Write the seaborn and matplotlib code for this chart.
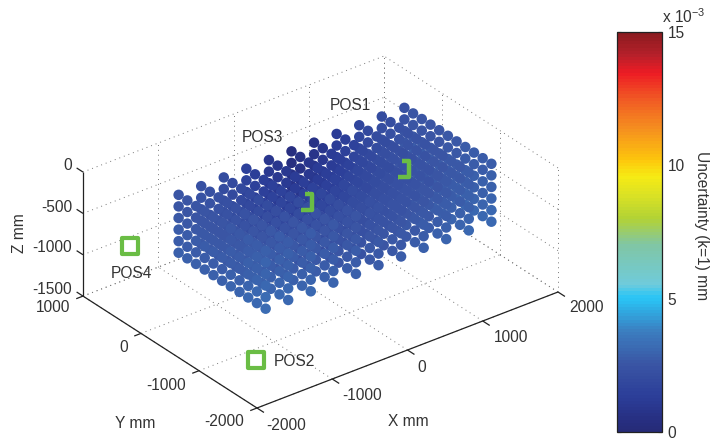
import numpy as np
import pandas as pd
import seaborn as sns
import matplotlib.pyplot as plt
from matplotlib.cm import ScalarMappable
from matplotlib.colors import LinearSegmentedColormap, Normalize
from matplotlib.markers import MarkerStyle
from matplotlib.path import Path

# measuring grid, mm
x_grid = [-1500, -1200, -900, -600, -300, 0, 300, 600, 900, 1200, 1500]
y_grid = [-1500, -1350, -1200, -1050, -900, -750, -600, -450, -300, -150, 0]
z_grid = [-700, -560, -420, -280, -140, 0]

# uncertainty on the top layer (x 10^-3 mm), one row per y_grid value
top_uncertainty = [
    [2.9, 2.8, 2.7, 2.6, 2.5, 2.4, 2.4, 2.5, 2.6, 2.7, 2.8],
    [2.8, 2.7, 2.6, 2.5, 2.4, 2.3, 2.3, 2.4, 2.5, 2.6, 2.7],
    [2.7, 2.6, 2.5, 2.4, 2.2, 2.1, 2.2, 2.3, 2.4, 2.6, 2.7],
    [2.6, 2.5, 2.4, 2.2, 2.0, 2.0, 2.1, 2.2, 2.4, 2.5, 2.7],
    [2.6, 2.5, 2.2, 2.0, 1.8, 1.8, 1.9, 2.1, 2.3, 2.5, 2.6],
    [2.5, 2.4, 2.1, 1.8, 1.6, 1.6, 1.8, 2.0, 2.2, 2.4, 2.6],
    [2.5, 2.3, 2.0, 1.6, 1.4, 1.4, 1.6, 1.9, 2.2, 2.4, 2.5],
    [2.5, 2.3, 1.9, 1.5, 1.2, 1.2, 1.4, 1.8, 2.1, 2.3, 2.5],
    [2.5, 2.3, 1.9, 1.4, 1.0, 0.9, 1.2, 1.6, 2.0, 2.3, 2.5],
    [2.5, 2.3, 1.9, 1.4, 0.9, 0.6, 0.9, 1.4, 1.9, 2.2, 2.5],
    [2.5, 2.3, 2.0, 1.5, 0.9, 0.4, 0.7, 1.2, 1.7, 2.1, 2.4],
]
# added per z layer, bottom to top
layer_offset = [0.35, 0.28, 0.2, 0.12, 0.06, 0.0]

pos_names = ["POS1", "POS2", "POS3", "POS4"]
pos_x = [1215, -1600, -20, -2030]
pos_y = [-310, -1465, -235, 150]
pos_z = [-500, -1300, -500, -500]

x_ticks = [-2000, -1000, 0, 1000, 2000]
y_ticks = [-2000, -1000, 0, 1000]
z_ticks = [-1500, -1000, -500, 0]
bar_ticks = [0, 5, 10, 15]

cmap_stops = [
    (0.0, "#262b78"), (0.2, "#262c7c"), (1.25, "#2b3d98"), (2.5, "#3a55a4"),
    (3.75, "#3b7ec0"), (4.9, "#2ac0f2"), (5.1, "#2ec6f4"), (5.5, "#6fcbdc"),
    (7.0, "#80c6a5"), (8.0, "#b2d235"), (9.0, "#dfe322"), (9.6, "#f6eb14"),
    (10.2, "#fdc70c"), (11.4, "#f58f1f"), (12.5, "#f15a24"), (13.5, "#ed1c24"),
    (14.2, "#b5202a"), (15.0, "#8b1b1f"),
]

TEXT = "#333333"
GREEN = "#6abd45"
FS = 11.2


def project(x, y, z):
    # same view as the matlab figure, result in figure pixels
    u = np.asarray(x, dtype=float) + 2000
    v = np.asarray(y, dtype=float) + 2000
    w = np.asarray(z, dtype=float) + 1500
    return 257 + 0.07525 * u - 0.058 * v, 408 - 0.029 * u - 0.0373 * v - 0.0827 * w


sns.set_theme(style="white")
plt.rcParams["font.family"] = ["Liberation Sans", "DejaVu Sans"]
plt.rcParams["mathtext.default"] = "regular"

cmap = LinearSegmentedColormap.from_list(
    "uncert", [(p / 15, c) for p, c in cmap_stops], N=128
)
norm = Normalize(0, 15)

rows = []
for k, z in enumerate(z_grid):
    for j, y in enumerate(y_grid):
        for i, x in enumerate(x_grid):
            rows.append((x, y, z, top_uncertainty[j][i] + layer_offset[k]))
df = pd.DataFrame(rows, columns=["x", "y", "z", "u"])
df["sx"], df["sy"] = project(df.x, df.y, df.z)
# far points first so the near ones are painted over them
df["near"] = -0.0048 * df.x - 0.00622 * df.y + 0.00449 * df.z
df = df.sort_values("near")

fig = plt.figure(figsize=(7.15, 4.41), dpi=100)
ax = fig.add_axes([0, 0, 1, 1])
ax.set_xlim(0, 715)
ax.set_ylim(441, 0)
ax.axis("off")

# dotted box: floor and the two back walls
dots = dict(color="#777777", lw=0.7, ls=(0, (1, 4)), zorder=1)
for xt in x_ticks:
    ax.plot(*project([xt, xt], [-2000, 1000], [-1500, -1500]), **dots)
    ax.plot(*project([xt, xt], [1000, 1000], [-1500, 0]), **dots)
for yt in y_ticks:
    ax.plot(*project([-2000, 2000], [yt, yt], [-1500, -1500]), **dots)
    ax.plot(*project([2000, 2000], [yt, yt], [-1500, 0]), **dots)
for zt in z_ticks:
    ax.plot(*project([-2000, 2000], [1000, 1000], [zt, zt]), **dots)
    ax.plot(*project([2000, 2000], [-2000, 1000], [zt, zt]), **dots)

# the solid axes with their ticks
solid = dict(color="#222222", lw=0.9, zorder=2, solid_capstyle="butt")
ax.plot(*project([-2000, 2000], [-2000, -2000], [-1500, -1500]), **solid)
ax.plot(*project([-2000, -2000], [-2000, 1000], [-1500, -1500]), **solid)
ax.plot(*project([-2000, -2000], [1000, 1000], [-1500, 0]), **solid)
for xt in x_ticks:
    ax.plot(*project([xt, xt], [-2000, -2120], [-1500, -1500]), **solid)
for yt in y_ticks:
    ax.plot(*project([-2000, -2090], [yt, yt], [-1500, -1500]), **solid)
for zt in z_ticks:
    ax.plot(*project([-2000, -2000], [1000, 1110], [zt, zt]), **solid)

# POS2 and POS4 are free squares, POS1 and POS3 stick out from behind the cloud
sx, sy = project(pos_x, pos_y, pos_z)
ax.scatter(sx[[1, 3]], sy[[1, 3]], marker="s", s=130, facecolor="white",
           edgecolor=GREEN, linewidth=3.0, zorder=3)

sns.scatterplot(data=df, x="sx", y="sy", hue="u", palette=cmap, hue_norm=norm,
                s=57, linewidth=0, legend=False, ax=ax, zorder=4)
ax.axis("off")
ax.set_xlim(0, 715)
ax.set_ylim(441, 0)

bracket = Path([(0.1, 1), (1, 1), (1, -1), (-0.35, -1)])
ax.plot(sx[[0, 2]], sy[[0, 2]], ls="none", zorder=5, markersize=11.5,
        marker=MarkerStyle(bracket, fillstyle="none", joinstyle="miter", capstyle="butt"),
        markerfacecolor="none", markeredgecolor=GREEN, markeredgewidth=3.2)

# tick labels
txt = dict(color=TEXT, fontsize=FS, ha="center", va="center")
for t, px, py in zip(x_ticks, [286, 362, 422, 511, 586], [425, 396, 367, 337, 308]):
    ax.text(px, py, str(t), **txt)
for t, px, py in zip(y_ticks, [224, 166, 124, 53], [422, 385, 347, 308]):
    ax.text(px, py, str(t), **txt)
for t, py in zip(z_ticks, [290, 248, 207, 165]):
    ax.text(72, py, str(t), color=TEXT, fontsize=FS, ha="right", va="center")

ax.text(408, 422, "X mm", **txt)
ax.text(135, 423, "Y mm", **txt)
ax.text(19, 233, "Z mm", rotation=90, **txt)
for name, px, py in zip(pos_names, [350, 294, 262, 131], [106, 361, 137, 273]):
    ax.text(px, py, name, **txt)

# colorbar
cax = fig.add_axes([617 / 715, 1 - 432 / 441, 45 / 715, 400 / 441])
cbar = fig.colorbar(ScalarMappable(norm=norm, cmap=cmap), cax=cax)
cbar.set_ticks(bar_ticks)
cbar.outline.set_edgecolor("#222222")
cbar.outline.set_linewidth(0.9)
cax.tick_params(axis="y", which="both", direction="in", left=True, right=True,
                length=3, width=0.8, color="#222222", labelcolor=TEXT,
                labelsize=FS, pad=4)
ax.text(662, 17, "x 10$^{-3}$", color=TEXT, fontsize=FS, ha="left", va="center")
ax.text(702, 226, "Uncertainty (k=1) mm", rotation=-90, **txt)

fig.savefig("out.png", dpi=100)
